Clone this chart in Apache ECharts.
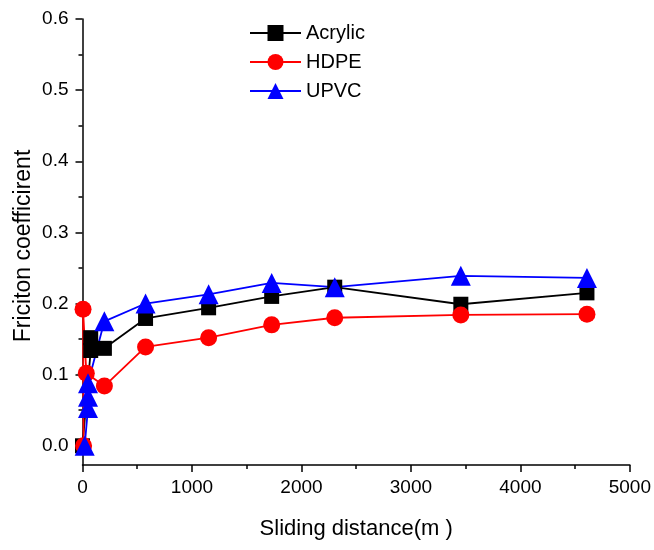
<!DOCTYPE html>
<html>
<head>
<meta charset="utf-8">
<script src="https://cdn.jsdelivr.net/npm/echarts@6/dist/echarts.min.js"></script>
<style>html,body{margin:0;padding:0;background:#fff}#c{width:654px;height:550px}</style>
</head>
<body>
<div id="c"></div>
<script>
// Data
const seriesNames = ['Acrylic', 'HDPE', 'UPVC'];
const acrylicX = [0, 75, 75, 200, 576, 1152, 1728, 2304, 3456, 4608];
const acrylicY = [0, 0.134, 0.152, 0.137, 0.179, 0.194, 0.210, 0.223, 0.199, 0.215];
const hdpeX = [10, 5, 35, 200, 576, 1152, 1728, 2304, 3456, 4608];
const hdpeY = [0, 0.192, 0.102, 0.084, 0.139, 0.152, 0.170, 0.180, 0.184, 0.185];
const upvcX = [20, 50, 50, 50, 200, 576, 1152, 1728, 2304, 3456, 4608];
const upvcY = [0, 0.053, 0.069, 0.088, 0.175, 0.200, 0.213, 0.229, 0.223, 0.239, 0.236];
const yMajorTicks = [0, 0.1, 0.2, 0.3, 0.4, 0.5, 0.6];
const yMinorTicks = [0.05, 0.15, 0.25, 0.35, 0.45, 0.55];
const xTitle = 'Sliding distance(m )';
const yTitle = 'Friciton coefficirent';

const pair = (xs, ys) => xs.map((x, i) => [x, ys[i]]);
const FONT = 'Liberation Sans, Arial, sans-serif';

const chart = echarts.init(document.getElementById('c'), null, {renderer: 'canvas'});
chart.setOption({
  animation: false,
  backgroundColor: '#fff',
  grid: {left: 82.5, right: 22.5, top: 19, bottom: 85, containLabel: false},
  graphic: [{
    type: 'text', x: 24, y: 246, rotation: Math.PI / 2,
    style: {text: yTitle, fontFamily: FONT, fontSize: 23, fill: '#000',
      align: 'center', verticalAlign: 'middle'}
  }],
  legend: {
    orient: 'vertical', left: 249, top: 23, padding: 0,
    itemWidth: 51, itemHeight: 20, itemGap: 9,
    textStyle: {fontFamily: FONT, fontSize: 20, color: '#000'},
    data: seriesNames
  },
  xAxis: {
    type: 'value', min: 0, max: 5000, interval: 1000,
    name: xTitle, nameLocation: 'middle', nameGap: 53,
    nameTextStyle: {fontFamily: FONT, fontSize: 22, color: '#000'},
    axisLine: {show: true, onZero: false, lineStyle: {color: '#000', width: 1.5}},
    axisTick: {show: true, length: 7, lineStyle: {color: '#000', width: 1.5}},
    minorTick: {show: true, splitNumber: 2, length: 4, lineStyle: {color: '#000', width: 1.5}},
    axisLabel: {fontFamily: FONT, fontSize: 19, color: '#000', margin: 13,
      formatter: v => String(v)},
    splitLine: {show: false}
  },
  yAxis: [{
    type: 'value', min: -0.027, max: 0.6,
    axisLine: {show: true, onZero: false, lineStyle: {color: '#000', width: 1.5}},
    axisTick: {show: true, length: 7, customValues: yMajorTicks, lineStyle: {color: '#000', width: 1.5}},
    axisLabel: {fontFamily: FONT, fontSize: 19, color: '#000', margin: 14,
      customValues: yMajorTicks, formatter: v => v.toFixed(1)},
    splitLine: {show: false}
  }, {
    type: 'value', min: -0.027, max: 0.6, position: 'left',
    axisLine: {show: false},
    axisTick: {show: true, length: 4, customValues: yMinorTicks, lineStyle: {color: '#000', width: 1.5}},
    axisLabel: {show: false},
    splitLine: {show: false}
  }],
  series: [{
    name: 'Acrylic', type: 'line', data: pair(acrylicX, acrylicY),
    symbol: 'rect', symbolSize: 15, color: '#000',
    lineStyle: {color: '#000', width: 1.8}, itemStyle: {color: '#000'}
  }, {
    name: 'HDPE', type: 'line', data: pair(hdpeX, hdpeY),
    symbol: 'circle', symbolSize: 17, color: '#ff0000',
    lineStyle: {color: '#ff0000', width: 1.8}, itemStyle: {color: '#ff0000'}
  }, {
    name: 'UPVC', type: 'line', data: pair(upvcX, upvcY),
    symbol: 'triangle', symbolSize: 20, color: '#0000ff',
    lineStyle: {color: '#0000ff', width: 1.8}, itemStyle: {color: '#0000ff'}
  }]
});
</script>
</body>
</html>
